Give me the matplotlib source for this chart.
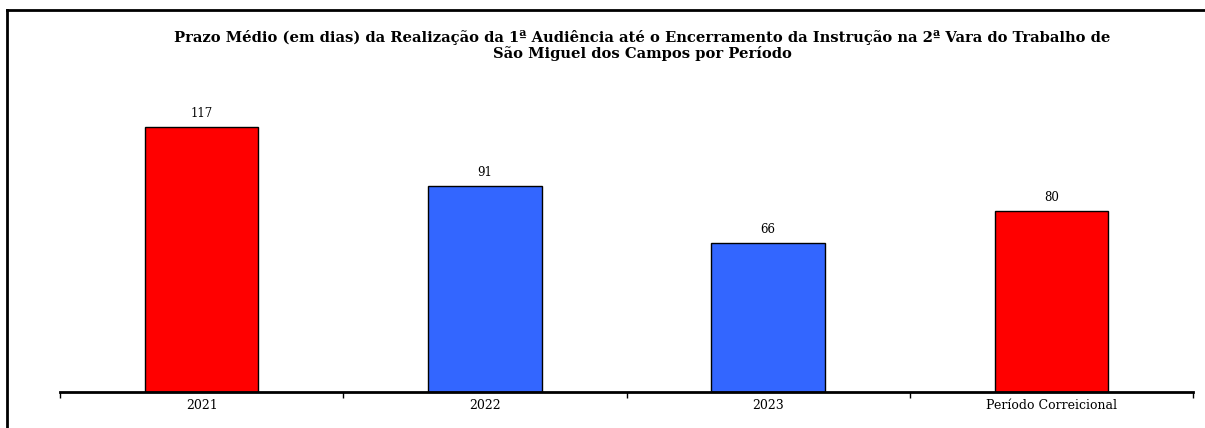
import matplotlib.pyplot as plt
from matplotlib.lines import Line2D

periodos = ['2021', '2022', '2023', 'Período Correicional']
prazos = [117, 91, 66, 80]
cores = ['#FF0000', '#3366FF', '#3366FF', '#FF0000']

titulo = ('Prazo Médio (em dias) da Realização da 1ª Audiência até o Encerramento da Instrução na 2ª Vara do Trabalho de\n'
          'São Miguel dos Campos por Período')

fig = plt.figure(figsize=(12.05, 4.28), dpi=100)
ax = fig.add_axes([60 / 1205, 36 / 428, 1133 / 1205, 317 / 428])

x = range(len(periodos))
ax.bar(x, prazos, width=0.4, color=cores, edgecolor='black', linewidth=1)
for i, v in zip(x, prazos):
    ax.text(i, v + 3, str(v), ha='center', va='bottom', fontsize=8.5,
            family='DejaVu Serif')

ax.set_xlim(-0.5, 3.5)
ax.set_ylim(0, 140)
ax.set_xticks(list(x))
ax.set_xticklabels(periodos, family='DejaVu Serif', fontsize=9)
ax.set_xticks([-0.5, 0.5, 1.5, 2.5, 3.5], minor=True)
ax.tick_params(axis='x', which='major', length=0, pad=5)
ax.tick_params(axis='x', which='minor', length=4, width=1)
ax.set_yticks([])
for s in ['top', 'right', 'left']:
    ax.spines[s].set_visible(False)
ax.spines['bottom'].set_linewidth(2)

fig.text(642 / 1205, 1 - 30 / 428, titulo, ha='center', va='top',
         fontsize=10.6, fontweight='bold', family='DejaVu Serif', linespacing=1.05)

# moldura do gráfico (cortada na imagem original)
fig.add_artist(Line2D([7 / 1205, 7 / 1205], [0, 1 - 10 / 428], color='black', lw=2))
fig.add_artist(Line2D([7 / 1205, 1], [1 - 10 / 428, 1 - 10 / 428], color='black', lw=2))

fig.savefig('out.png', dpi=100)
